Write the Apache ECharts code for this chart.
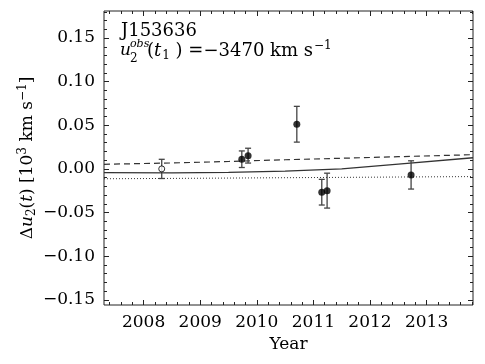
<!DOCTYPE html>
<html>
<head>
<meta charset="utf-8">
<title>J153636</title>
<script src="https://cdn.jsdelivr.net/npm/echarts@6/dist/echarts.min.js"></script>
<style>
  html, body { margin: 0; padding: 0; background: #fff; }
  #chart { width: 485px; height: 364px; }
</style>
</head>
<body>
<div id="chart"></div>
<script>
// filled points (later epochs) and the open reference point
var detYears = [2009.735, 2009.846, 2010.707, 2011.148, 2011.242, 2012.726];
var detVals  = [0.0111, 0.0152, 0.0512, -0.0267, -0.0249, -0.0069];
var detErrs  = [0.0095, 0.0085, 0.0205, 0.0147, 0.0200, 0.0162];
var refYears = [2008.32];
var refVals  = [0.0];
var refErrs  = [0.011];

// model curves
var lineYears  = [2007.30, 2008.5, 2009.5, 2010.5, 2011.5, 2012.5, 2013.82];
var solidVals  = [-0.0042, -0.0046, -0.0040, -0.0025, 0.0000, 0.0055, 0.0128];
var dashedVals = [0.0053, 0.0068, 0.0085, 0.0105, 0.0122, 0.0140, 0.0163];
var dottedVals = [-0.0113, -0.0109, -0.0105, -0.0101, -0.0097, -0.0093, -0.0088];

// ticks
var xMajor = [2008, 2009, 2010, 2011, 2012, 2013];
var xMinor = [2007.4, 2007.6, 2007.8, 2008.2, 2008.4, 2008.6, 2008.8,
  2009.2, 2009.4, 2009.6, 2009.8, 2010.2, 2010.4, 2010.6, 2010.8,
  2011.2, 2011.4, 2011.6, 2011.8, 2012.2, 2012.4, 2012.6, 2012.8,
  2013.2, 2013.4, 2013.6, 2013.8];
var yMajor = [-0.15, -0.10, -0.05, 0.00, 0.05, 0.10, 0.15];
var yMinor = [-0.14, -0.13, -0.12, -0.11, -0.09, -0.08, -0.07, -0.06,
  -0.04, -0.03, -0.02, -0.01, 0.01, 0.02, 0.03, 0.04,
  0.06, 0.07, 0.08, 0.09, 0.11, 0.12, 0.13, 0.14, 0.16, 0.17, 0.18];

var X_MIN = 2007.30, X_MAX = 2013.82;
var Y_MIN = -0.156, Y_MAX = 0.181;
var FONT = 'DejaVu Serif';

function zip(a, b) {
  return a.map(function (v, i) { return [v, b[i]]; });
}
function bars(xs, vs, es) {
  return xs.map(function (x, i) { return [x, vs[i] - es[i], vs[i] + es[i]]; });
}

function xAx(pos, ticks, len, withLabel) {
  return {
    type: 'value', gridIndex: 0, position: pos, min: X_MIN, max: X_MAX,
    axisLine: { show: false, onZero: false },
    splitLine: { show: false },
    axisTick: { inside: true, length: len, customValues: ticks,
      lineStyle: { color: '#222', width: 1 } },
    axisLabel: withLabel ? {
      customValues: ticks, margin: 9, color: '#000',
      fontFamily: FONT, fontSize: 17,
      formatter: function (v) { return String(Math.round(v)); }
    } : { show: false },
    name: withLabel ? 'Year' : '',
    nameLocation: 'middle', nameGap: 28,
    nameTextStyle: { color: '#000', fontFamily: FONT, fontSize: 17 }
  };
}
function yAx(pos, ticks, len, withLabel) {
  return {
    type: 'value', gridIndex: 0, position: pos, min: Y_MIN, max: Y_MAX,
    axisLine: { show: false, onZero: false },
    splitLine: { show: false },
    axisTick: { inside: true, length: len, customValues: ticks,
      lineStyle: { color: '#222', width: 1 } },
    axisLabel: withLabel ? {
      customValues: ticks, margin: 9, color: '#000',
      fontFamily: FONT, fontSize: 17,
      formatter: function (v) {
        var s = Math.abs(v).toFixed(2);
        return v < -1e-9 ? '\u2212' + s : s;
      }
    } : { show: false }
  };
}

function errRender(params, api) {
  var x = api.value(0);
  var lo = api.coord([x, api.value(1)]);
  var hi = api.coord([x, api.value(2)]);
  var w = 3;
  var st = { stroke: '#444', lineWidth: 1.3 };
  return {
    type: 'group',
    children: [
      { type: 'line', shape: { x1: lo[0], y1: lo[1], x2: hi[0], y2: hi[1] }, style: st },
      { type: 'line', shape: { x1: lo[0] - w, y1: lo[1], x2: lo[0] + w, y2: lo[1] }, style: st },
      { type: 'line', shape: { x1: hi[0] - w, y1: hi[1], x2: hi[0] + w, y2: hi[1] }, style: st }
    ]
  };
}

var chart = echarts.init(document.getElementById('chart'), null, { renderer: 'canvas' });

var option = {
  animation: false,
  backgroundColor: '#fff',
  grid: {
    left: 104, top: 11, width: 369, height: 294,
    containLabel: false, outerBoundsMode: 'none',
    show: true, borderColor: '#222', borderWidth: 1, backgroundColor: 'transparent'
  },
  xAxis: [
    xAx('bottom', xMajor, 5, true),
    xAx('bottom', xMinor, 3, false),
    xAx('top', xMajor, 5, false),
    xAx('top', xMinor, 3, false)
  ],
  yAxis: [
    yAx('left', yMajor, 5, true),
    yAx('left', yMinor, 3, false),
    yAx('right', yMajor, 5, false),
    yAx('right', yMinor, 3, false)
  ],
  series: [
    {
      type: 'line', data: zip(lineYears, solidVals), symbol: 'none', z: 2,
      lineStyle: { color: '#333', width: 1.3 }
    },
    {
      type: 'line', data: zip(lineYears, dashedVals), symbol: 'none', z: 2,
      lineStyle: { color: '#333', width: 1.2, type: [6, 4] }
    },
    {
      type: 'line', data: zip(lineYears, dottedVals), symbol: 'none', z: 2,
      lineStyle: { color: '#333', width: 1, type: [1, 2] }
    },
    {
      type: 'custom', renderItem: errRender, z: 3,
      data: bars(detYears, detVals, detErrs).concat(bars(refYears, refVals, refErrs)),
      encode: { x: 0, y: [1, 2] }
    },
    {
      type: 'scatter', data: zip(detYears, detVals), z: 4,
      symbol: 'circle', symbolSize: 7,
      itemStyle: { color: '#000' }
    },
    {
      type: 'scatter', data: zip(refYears, refVals), z: 4,
      symbol: 'circle', symbolSize: 6,
      itemStyle: { color: '#fff', borderColor: '#000', borderWidth: 1 }
    }
  ],
  graphic: [
    { type: 'text', left: 121, top: 22,
      style: { text: 'J153636', fontFamily: FONT, fontSize: 18, fill: '#000' } },
    { type: 'text', x: 120, y: 51,
      style: { text: 'u', fontFamily: FONT, fontStyle: 'italic', fontSize: 17,
        fill: '#000', verticalAlign: 'middle' } },
    { type: 'text', x: 130, y: 44,
      style: { text: 'obs', fontFamily: FONT, fontStyle: 'italic', fontSize: 11,
        fill: '#000', verticalAlign: 'middle' } },
    { type: 'text', x: 130, y: 59,
      style: { text: '2', fontFamily: FONT, fontSize: 12,
        fill: '#000', verticalAlign: 'middle' } },
    { type: 'text', x: 147, y: 51,
      style: {
        text: '{n|(}{i|t}{sb|1}{n| ) =\u22123470 km s}{sp|\u22121}',
        verticalAlign: 'middle', fill: '#000',
        rich: {
          n: { fontFamily: FONT, fontSize: 18 },
          i: { fontFamily: FONT, fontSize: 18, fontStyle: 'italic' },
          sb: { fontFamily: FONT, fontSize: 12, padding: [9, 0, 0, 1] },
          sp: { fontFamily: FONT, fontSize: 12, padding: [0, 0, 10, 1] }
        }
      } },
    { type: 'text', x: 28, y: 158, rotation: Math.PI / 2,
      style: {
        text: '{n|\u0394}{i|u}{sb|2}{n|(}{i|t}{n|) [10}{sp|3}{n| km s}{sp|\u22121}{n|]}',
        align: 'center', verticalAlign: 'middle', fill: '#000',
        rich: {
          n: { fontFamily: FONT, fontSize: 17 },
          i: { fontFamily: FONT, fontSize: 17, fontStyle: 'italic' },
          sb: { fontFamily: FONT, fontSize: 12, padding: [8, 0, 0, 0] },
          sp: { fontFamily: FONT, fontSize: 12, padding: [0, 0, 10, 0] }
        }
      } }
  ]
};

chart.setOption(option);
</script>
</body>
</html>
